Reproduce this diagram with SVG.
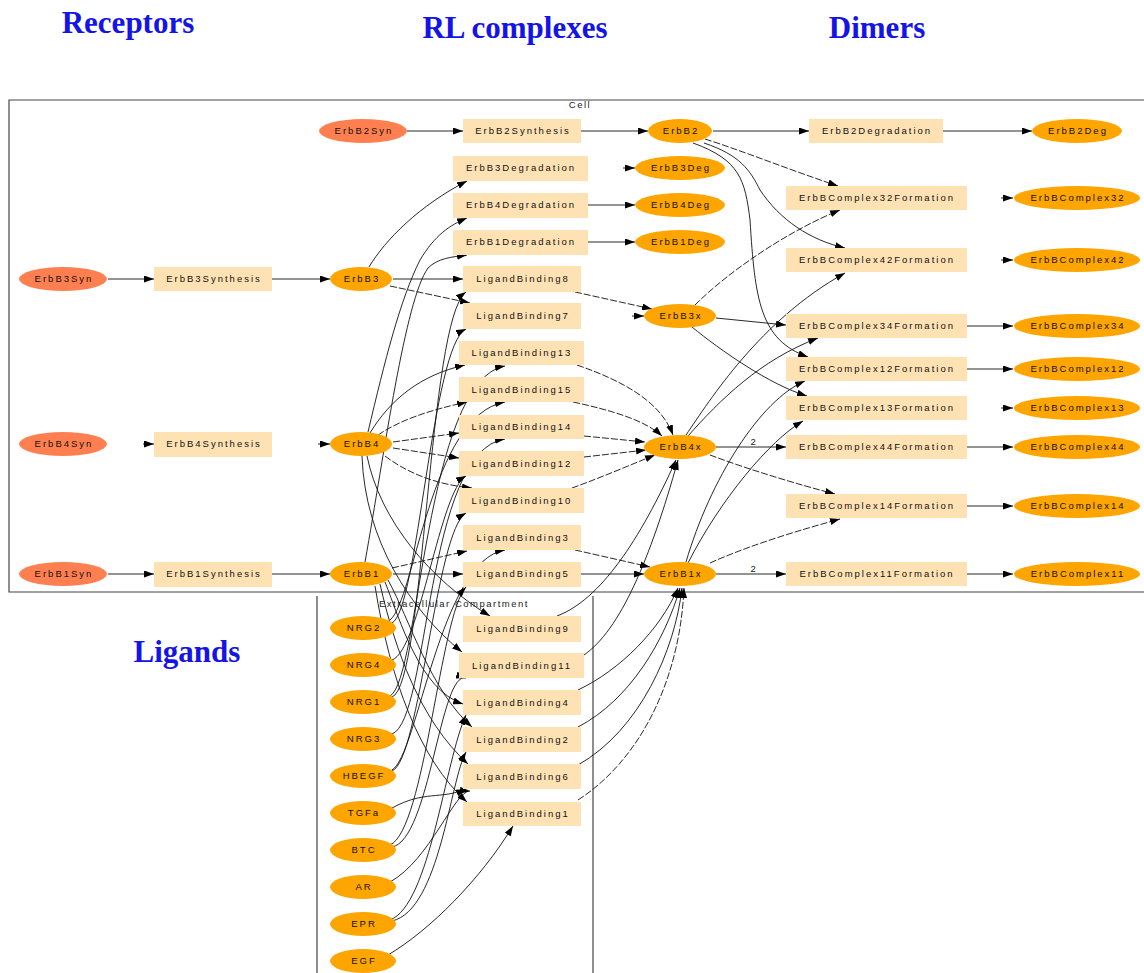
<svg xmlns="http://www.w3.org/2000/svg" width="1144" height="973" viewBox="0 0 1144 973">
<style>
.title{font-family:"Liberation Serif",serif;font-weight:bold;font-size:31px;fill:#1414e6;text-anchor:middle}
.t{font-family:"Liberation Sans",Arial,sans-serif;font-size:9.5px;letter-spacing:2px;text-anchor:middle;fill:#111}
.cl{font-family:"Liberation Sans",Arial,sans-serif;font-size:9.5px;letter-spacing:1.5px;text-anchor:middle;fill:#222}
.syn{fill:#ff7f50}
.sp{fill:#ffa500}
.rx{fill:#ffe2b4}
.e{fill:none;stroke:#111;stroke-width:0.9;marker-end:url(#a)}
.d{stroke-dasharray:7,2}
.box{fill:none;stroke:#444;stroke-width:1.2}
</style>
<defs>
<marker id="a" viewBox="0 0 10 7" refX="10" refY="3.5" markerWidth="10" markerHeight="7" orient="auto" markerUnits="userSpaceOnUse"><path d="M0,0 L10,3.5 L0,7 z" fill="#000"/></marker>
</defs>
<rect width="1144" height="973" fill="#fff"/>

<g id="titles">
<text class="title" x="128" y="33">Receptors</text>
<text class="title" x="515" y="38">RL complexes</text>
<text class="title" x="877" y="38">Dimers</text>
<text class="title" x="187" y="662">Ligands</text>
</g>

<g id="compartments">
<path class="box" d="M1150,100 L9,100 L9,592 L1150,592"/>
<text class="cl" x="580" y="108">Cell</text>
<path class="box" d="M317,975 L317,596 M593,596 L593,975"/>
<text class="cl" x="454" y="607">Extracellular Compartment</text>
</g>

<g id="connectors">
<path class="e" d="M407,131 L463,131"/>
<path class="e" d="M581,131 L648,131"/>
<path class="e" d="M713,131 L809,131"/>
<path class="e" d="M943,131 L1032,131"/>
<path class="e" d="M108,279 L154,279"/>
<path class="e" d="M272,279 L330,279"/>
<path class="e" d="M143,444 L154,444"/>
<path class="e" d="M318,444 L330,444"/>
<path class="e" d="M108,574 L154,574"/>
<path class="e" d="M272,574 L330,574"/>
<path class="e" d="M623,168 L635,168"/>
<path class="e" d="M588,205 L635,205"/>
<path class="e" d="M588,242 L635,242"/>
<path class="e" d="M369,267 C385,240 420,205 467,181"/>
<path class="e" d="M368,432 C385,360 400,300 420,260 C435,235 450,225 467,218"/>
<path class="e" d="M365,562 C385,450 405,300 428,268 C438,258 452,257 467,255"/>
<path class="e" d="M393,279 L463,279"/>
<path class="e d" d="M390,286 L470,303"/>
<path class="e" d="M370,433 C390,400 420,375 465,365"/>
<path class="e d" d="M378,435 C400,420 430,410 467,402"/>
<path class="e d" d="M393,442 L459,433"/>
<path class="e d" d="M393,448 L459,458"/>
<path class="e d" d="M385,456 C410,475 440,485 472,488"/>
<path class="e" d="M367,456 C380,520 430,580 490,616"/>
<path class="e" d="M362,456 C365,540 410,610 462,652"/>
<path class="e d" d="M392,568 L467,551"/>
<path class="e" d="M393,574 L463,574"/>
<path class="e" d="M385,582 C400,620 420,690 463,704"/>
<path class="e" d="M388,580 C410,620 430,690 472,727"/>
<path class="e" d="M380,584 C395,650 420,720 468,764"/>
<path class="e" d="M375,586 C390,680 420,760 467,802"/>

<path class="e" d="M392,697 C425,685 428,320 466,292"/>
<path class="e" d="M390,696 C420,680 425,380 505,366"/>
<path class="e" d="M392,623 C418,610 432,345 466,329"/>
<path class="e" d="M390,620 C415,600 430,415 505,402"/>
<path class="e" d="M392,734 C430,720 425,450 505,439"/>
<path class="e" d="M392,660 C420,650 440,490 466,476"/>
<path class="e" d="M392,771 C420,760 436,530 466,513"/>
<path class="e" d="M392,770 C418,755 440,560 505,550"/>
<path class="e" d="M390,845 C425,830 440,615 466,587"/>
<path class="e" d="M392,847 C430,840 440,670 466,678"/>
<path class="e" d="M390,920 C430,905 445,760 466,715"/>
<path class="e" d="M392,921 C440,910 450,780 466,752"/>
<path class="e" d="M392,808 C425,790 440,800 466,789"/>
<path class="e" d="M390,882 C430,860 455,790 470,791"/>
<path class="e" d="M388,955 C430,930 480,880 513,826"/>

<path class="e d" d="M575,292 L652,309"/>
<path class="e" d="M632,316 L644,316"/>
<path class="e d" d="M577,365 C620,380 660,400 673,435"/>
<path class="e d" d="M573,402 C610,410 645,420 662,436"/>
<path class="e d" d="M584,436 L645,442"/>
<path class="e d" d="M584,457 L646,450"/>
<path class="e d" d="M572,488 C600,478 630,465 655,455"/>
<path class="e d" d="M575,550 L650,567"/>
<path class="e" d="M581,574 L644,574"/>
<path class="e" d="M557,616 C600,600 640,540 676,460"/>
<path class="e" d="M584,655 C620,630 650,560 678,460"/>
<path class="e" d="M578,690 C620,670 660,630 678,588"/>
<path class="e" d="M578,727 C630,700 665,640 680,588"/>
<path class="e" d="M578,765 C640,730 675,650 682,588"/>
<path class="e d" d="M578,800 C640,760 680,680 684,588"/>

<path class="e d" d="M705,139 C740,150 790,170 838,186"/>
<path class="e" d="M704,143 C740,155 750,170 760,190 C780,220 810,240 845,248"/>
<path class="e" d="M693,143 C740,160 745,180 750,220 C755,300 760,340 808,357"/>
<path class="e d" d="M695,305 C730,270 790,230 840,210"/>
<path class="e" d="M716,318 L786,325"/>
<path class="e" d="M692,327 C720,350 770,385 807,396"/>
<path class="e" d="M686,435 C710,400 760,320 845,273"/>
<path class="e" d="M688,436 C720,400 760,360 818,338"/>
<path class="e" d="M716,447 L786,447"/>
<path class="e d" d="M710,455 C750,470 800,485 835,494"/>
<path class="e" d="M686,562 C710,480 760,400 805,381"/>
<path class="e" d="M688,563 C720,500 770,440 803,421"/>
<path class="e d" d="M710,563 C750,545 800,530 840,519"/>
<path class="e" d="M716,574 L786,574"/>
<text class="cl" x="754" y="445">2</text>
<text class="cl" x="754" y="572">2</text>

<path class="e" d="M1001,198 L1013,198"/>
<path class="e" d="M1001,260 L1013,260"/>
<path class="e" d="M967,326 L1013,326"/>
<path class="e" d="M967,369 L1013,369"/>
<path class="e" d="M1001,408 L1013,408"/>
<path class="e" d="M967,447 L1013,447"/>
<path class="e" d="M967,506 L1013,506"/>
<path class="e" d="M967,574 L1013,574"/>
</g>

<g id="ErbB2Syn"><ellipse class="syn" cx="363" cy="131" rx="44" ry="12"/><text class="t" x="364" y="134">ErbB2Syn</text></g>
<g id="ErbB3Syn"><ellipse class="syn" cx="63" cy="279" rx="44" ry="12"/><text class="t" x="64" y="282">ErbB3Syn</text></g>
<g id="ErbB4Syn"><ellipse class="syn" cx="63" cy="444" rx="44" ry="12"/><text class="t" x="64" y="447">ErbB4Syn</text></g>
<g id="ErbB1Syn"><ellipse class="syn" cx="63" cy="574" rx="44" ry="12"/><text class="t" x="64" y="577">ErbB1Syn</text></g>

<g id="ErbB2Synthesis"><rect class="rx" x="463" y="119" width="118" height="24"/><text class="t" x="523" y="134">ErbB2Synthesis</text></g>
<g id="ErbB3Synthesis"><rect class="rx" x="154" y="267" width="118" height="24"/><text class="t" x="214" y="282">ErbB3Synthesis</text></g>
<g id="ErbB4Synthesis"><rect class="rx" x="154" y="432" width="118" height="25"/><text class="t" x="214" y="447">ErbB4Synthesis</text></g>
<g id="ErbB1Synthesis"><rect class="rx" x="154" y="562" width="118" height="25"/><text class="t" x="214" y="577">ErbB1Synthesis</text></g>

<g id="ErbB2"><ellipse class="sp" cx="680" cy="131" rx="32" ry="12"/><text class="t" x="681" y="134">ErbB2</text></g>
<g id="ErbB3"><ellipse class="sp" cx="361" cy="279" rx="31" ry="12"/><text class="t" x="362" y="282">ErbB3</text></g>
<g id="ErbB4"><ellipse class="sp" cx="361" cy="444" rx="31" ry="12"/><text class="t" x="362" y="447">ErbB4</text></g>
<g id="ErbB1"><ellipse class="sp" cx="361" cy="574" rx="31" ry="12"/><text class="t" x="362" y="577">ErbB1</text></g>

<g id="ErbB2Degradation"><rect class="rx" x="809" y="119" width="134" height="24"/><text class="t" x="877" y="134">ErbB2Degradation</text></g>
<g id="ErbB3Degradation"><rect class="rx" x="453" y="156" width="135" height="25"/><text class="t" x="521" y="171">ErbB3Degradation</text></g>
<g id="ErbB4Degradation"><rect class="rx" x="453" y="193" width="135" height="25"/><text class="t" x="521" y="208">ErbB4Degradation</text></g>
<g id="ErbB1Degradation"><rect class="rx" x="453" y="230" width="135" height="25"/><text class="t" x="521" y="245">ErbB1Degradation</text></g>

<g id="ErbB2Deg"><ellipse class="sp" cx="1077" cy="131" rx="45" ry="12"/><text class="t" x="1078" y="134">ErbB2Deg</text></g>
<g id="ErbB3Deg"><ellipse class="sp" cx="680" cy="168" rx="45" ry="12"/><text class="t" x="681" y="171">ErbB3Deg</text></g>
<g id="ErbB4Deg"><ellipse class="sp" cx="680" cy="205" rx="45" ry="12"/><text class="t" x="681" y="208">ErbB4Deg</text></g>
<g id="ErbB1Deg"><ellipse class="sp" cx="680" cy="242" rx="45" ry="12"/><text class="t" x="681" y="245">ErbB1Deg</text></g>

<g id="LigandBinding8"><rect class="rx" x="463" y="266" width="118" height="26"/><text class="t" x="523" y="282">LigandBinding8</text></g>
<g id="LigandBinding7"><rect class="rx" x="463" y="303" width="118" height="26"/><text class="t" x="523" y="319">LigandBinding7</text></g>
<g id="LigandBinding13"><rect class="rx" x="459" y="341" width="125" height="24"/><text class="t" x="522" y="356">LigandBinding13</text></g>
<g id="LigandBinding15"><rect class="rx" x="459" y="377" width="125" height="25"/><text class="t" x="522" y="393">LigandBinding15</text></g>
<g id="LigandBinding14"><rect class="rx" x="459" y="415" width="125" height="24"/><text class="t" x="522" y="430">LigandBinding14</text></g>
<g id="LigandBinding12"><rect class="rx" x="459" y="451" width="125" height="25"/><text class="t" x="522" y="467">LigandBinding12</text></g>
<g id="LigandBinding10"><rect class="rx" x="459" y="488" width="125" height="25"/><text class="t" x="522" y="504">LigandBinding10</text></g>
<g id="LigandBinding3"><rect class="rx" x="463" y="525" width="118" height="25"/><text class="t" x="523" y="541">LigandBinding3</text></g>
<g id="LigandBinding5"><rect class="rx" x="463" y="562" width="118" height="25"/><text class="t" x="523" y="577">LigandBinding5</text></g>
<g id="LigandBinding9"><rect class="rx" x="463" y="616" width="118" height="26"/><text class="t" x="523" y="632">LigandBinding9</text></g>
<g id="LigandBinding11"><rect class="rx" x="459" y="653" width="125" height="25"/><text class="t" x="522" y="669">LigandBinding11</text></g>
<g id="LigandBinding4"><rect class="rx" x="463" y="690" width="118" height="25"/><text class="t" x="523" y="706">LigandBinding4</text></g>
<g id="LigandBinding2"><rect class="rx" x="463" y="727" width="118" height="25"/><text class="t" x="523" y="743">LigandBinding2</text></g>
<g id="LigandBinding6"><rect class="rx" x="463" y="764" width="118" height="25"/><text class="t" x="523" y="780">LigandBinding6</text></g>
<g id="LigandBinding1"><rect class="rx" x="463" y="802" width="118" height="24"/><text class="t" x="523" y="817">LigandBinding1</text></g>

<g id="ErbB3x"><ellipse class="sp" cx="680" cy="316" rx="36" ry="12"/><text class="t" x="681" y="319">ErbB3x</text></g>
<g id="ErbB4x"><ellipse class="sp" cx="680" cy="447" rx="36" ry="12"/><text class="t" x="681" y="450">ErbB4x</text></g>
<g id="ErbB1x"><ellipse class="sp" cx="680" cy="574" rx="36" ry="12"/><text class="t" x="681" y="577">ErbB1x</text></g>

<g id="ErbBComplex32Formation"><rect class="rx" x="786" y="186" width="181" height="24"/><text class="t" x="877" y="201">ErbBComplex32Formation</text></g>
<g id="ErbBComplex42Formation"><rect class="rx" x="786" y="248" width="181" height="24"/><text class="t" x="877" y="263">ErbBComplex42Formation</text></g>
<g id="ErbBComplex34Formation"><rect class="rx" x="786" y="314" width="181" height="24"/><text class="t" x="877" y="329">ErbBComplex34Formation</text></g>
<g id="ErbBComplex12Formation"><rect class="rx" x="786" y="357" width="181" height="24"/><text class="t" x="877" y="372">ErbBComplex12Formation</text></g>
<g id="ErbBComplex13Formation"><rect class="rx" x="786" y="396" width="181" height="24"/><text class="t" x="877" y="411">ErbBComplex13Formation</text></g>
<g id="ErbBComplex44Formation"><rect class="rx" x="786" y="435" width="181" height="24"/><text class="t" x="877" y="450">ErbBComplex44Formation</text></g>
<g id="ErbBComplex14Formation"><rect class="rx" x="786" y="494" width="181" height="24"/><text class="t" x="877" y="509">ErbBComplex14Formation</text></g>
<g id="ErbBComplex11Formation"><rect class="rx" x="786" y="562" width="181" height="24"/><text class="t" x="877" y="577">ErbBComplex11Formation</text></g>

<g id="ErbBComplex32"><ellipse class="sp" cx="1077" cy="198" rx="63" ry="12"/><text class="t" x="1078" y="201">ErbBComplex32</text></g>
<g id="ErbBComplex42"><ellipse class="sp" cx="1077" cy="260" rx="63" ry="12"/><text class="t" x="1078" y="263">ErbBComplex42</text></g>
<g id="ErbBComplex34"><ellipse class="sp" cx="1077" cy="326" rx="63" ry="12"/><text class="t" x="1078" y="329">ErbBComplex34</text></g>
<g id="ErbBComplex12"><ellipse class="sp" cx="1077" cy="369" rx="63" ry="12"/><text class="t" x="1078" y="372">ErbBComplex12</text></g>
<g id="ErbBComplex13"><ellipse class="sp" cx="1077" cy="408" rx="63" ry="12"/><text class="t" x="1078" y="411">ErbBComplex13</text></g>
<g id="ErbBComplex44"><ellipse class="sp" cx="1077" cy="447" rx="63" ry="12"/><text class="t" x="1078" y="450">ErbBComplex44</text></g>
<g id="ErbBComplex14"><ellipse class="sp" cx="1077" cy="506" rx="63" ry="12"/><text class="t" x="1078" y="509">ErbBComplex14</text></g>
<g id="ErbBComplex11"><ellipse class="sp" cx="1077" cy="574" rx="63" ry="12"/><text class="t" x="1078" y="577">ErbBComplex11</text></g>

<g id="NRG2"><ellipse class="sp" cx="363" cy="628" rx="33" ry="12"/><text class="t" x="364" y="631">NRG2</text></g>
<g id="NRG4"><ellipse class="sp" cx="363" cy="665" rx="33" ry="12"/><text class="t" x="364" y="668">NRG4</text></g>
<g id="NRG1"><ellipse class="sp" cx="363" cy="702" rx="33" ry="12"/><text class="t" x="364" y="705">NRG1</text></g>
<g id="NRG3"><ellipse class="sp" cx="363" cy="739" rx="33" ry="12"/><text class="t" x="364" y="742">NRG3</text></g>
<g id="HBEGF"><ellipse class="sp" cx="363" cy="776" rx="33" ry="12"/><text class="t" x="364" y="779">HBEGF</text></g>
<g id="TGFa"><ellipse class="sp" cx="363" cy="813" rx="33" ry="12"/><text class="t" x="364" y="816">TGFa</text></g>
<g id="BTC"><ellipse class="sp" cx="363" cy="850" rx="33" ry="12"/><text class="t" x="364" y="853">BTC</text></g>
<g id="AR"><ellipse class="sp" cx="363" cy="887" rx="33" ry="12"/><text class="t" x="364" y="890">AR</text></g>
<g id="EPR"><ellipse class="sp" cx="363" cy="924" rx="33" ry="12"/><text class="t" x="364" y="927">EPR</text></g>
<g id="EGF"><ellipse class="sp" cx="363" cy="961" rx="33" ry="12"/><text class="t" x="364" y="964">EGF</text></g>
</svg>
